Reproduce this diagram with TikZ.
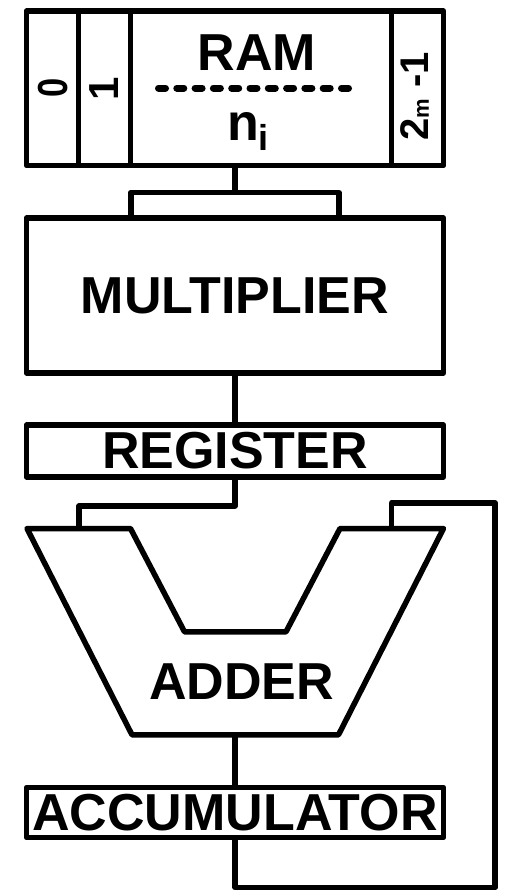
\documentclass[tikz,border=0pt]{standalone}
\usepackage{fontspec}
\setmainfont{Liberation Sans}
\begin{document}
\begin{tikzpicture}[x=1pt,y=-1pt,line width=5.5pt,line join=round,
  box/.style={draw,line width=5.5pt,minimum width=417pt,inner sep=0pt,outer sep=0pt,
    font=\bfseries\fontsize{52}{52}\selectfont},
  lbl/.style={inner sep=0pt,outer sep=0pt,font=\bfseries\fontsize{52}{52}\selectfont},
  wire/.style={draw,line width=5.5pt,line join=round},
  dotline/.style={draw,line width=7pt,line cap=round,dash pattern=on 7pt off 11.3pt}]
\useasboundingbox (0,0) rectangle (504,891);
% RAM
\node[box,minimum height=154.5pt] (ram) at (235,88.25) {};
\draw (78.5,11) -- (78.5,165.5);
\draw (130.5,11) -- (130.5,165.5);
\draw (391.5,11) -- (391.5,165.5);
\node[lbl,font=\bfseries\fontsize{42}{42}\selectfont,rotate=90] (c0) at (53.5,87.5) {\scalebox{0.82}[1]{0}};
\node[lbl,font=\bfseries\fontsize{42}{42}\selectfont,rotate=90] (c1) at (104.5,89) {1};
\node[lbl,font=\bfseries\fontsize{40}{40}\selectfont,rotate=90] (cn) at (415,96.5) {2{\fontsize{22}{22}\selectfont m} -1};
\node[lbl] (ramlbl) at (257,52.5) {RAM};
\coordinate (dA) at (158.5,88);
\coordinate (dB) at (349,88);
\draw[dotline] (dA) -- (dB);
\node[lbl,anchor=base west] (ni) at (227,140) {n\raisebox{-10pt}{\fontsize{36}{36}\selectfont i}};
% multiplier
\node[box,minimum height=155pt] (mul) at (235,295.5) {MULTIPLIER};
\coordinate (fork) at (235,192.5);
\coordinate (mulL) at (130.8,218);
\coordinate (mulR) at (338.8,218);
\draw[wire] (ram.south) -- (fork);
\draw[wire] (mulL) |- (fork) -| (mulR);
% register
\node[box,minimum height=52pt] (reg) at (235,451) {REGISTER};
\draw[wire] (mul.south) -- (reg.north);
% adder
\draw (27,528.5) -- (130.5,528.5) -- (184.5,631.8) -- (286,631.8) -- (340,528.5)
  -- (443.5,528.5) -- (338.5,734.8) -- (132,734.8) -- cycle;
\coordinate (addA) at (79.2,528.5);
\coordinate (addB) at (391.7,528.5);
\coordinate (addOut) at (235,734.8);
\node[lbl] (addlbl) at (241.5,681.3) {ADDER};
\coordinate (jA) at (79.2,505.8);
\draw[wire] (reg.south) |- (jA) -- (addA);
% accumulator
\node[box,minimum height=50pt] (acc) at (235,812.5) {ACCUMULATOR};
\draw[wire] (addOut) -- (acc.north);
\coordinate (fbBL) at (235,887.5);
\coordinate (fbBR) at (495.2,887.5);
\coordinate (fbTR) at (495.2,502.8);
\coordinate (fbTL) at (391.7,502.8);
\draw[wire] (acc.south) -- (fbBL) -- (fbBR) -- (fbTR) -- (fbTL) -- (addB);
\end{tikzpicture}
\end{document}
